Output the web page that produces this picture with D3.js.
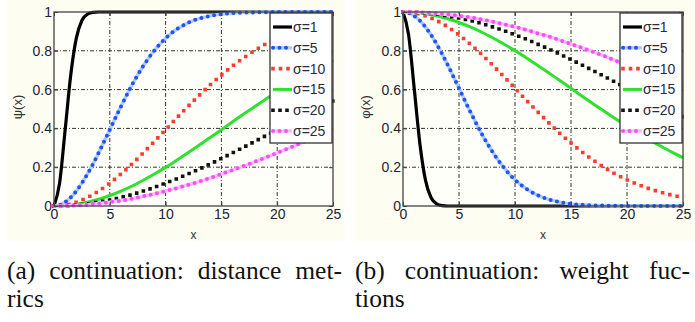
<!DOCTYPE html>
<html>
<head>
<meta charset="utf-8">
<script src="https://cdn.jsdelivr.net/npm/d3@7"></script>
<style>
body { margin: 0; background: #fff; }
svg { display: block; }
</style>
</head>
<body>
<div id="fig"></div>
<script>
/* data */
var xValues = [0, 0.5, 1, 1.5, 2, 2.5, 3, 3.5, 4, 5, 6, 7, 8, 9, 10, 11, 12, 13, 14, 15, 16, 17, 18, 19, 20, 21, 22, 23, 24, 25]
var sigmaLabels = ["σ=1", "σ=5", "σ=10", "σ=15", "σ=20", "σ=25"]
var xTicks = [0, 5, 10, 15, 20, 25]
var yTicks = [0, 0.2, 0.4, 0.6, 0.8, 1]

/* (a) distance metrics psi(x) */
var psi1  = [0, 0.118, 0.393, 0.675, 0.865, 0.956, 0.989, 0.998, 1, 1, 1, 1, 1, 1, 1, 1, 1, 1, 1, 1, 1, 1, 1, 1, 1, 1, 1, 1, 1, 1]
var psi5  = [0, 0.005, 0.020, 0.044, 0.077, 0.118, 0.165, 0.217, 0.274, 0.393, 0.513, 0.625, 0.722, 0.802, 0.865, 0.911, 0.944, 0.966, 0.980, 0.989, 0.994, 0.997, 0.998, 0.999, 1, 1, 1, 1, 1, 1]
var psi10 = [0, 0.001, 0.005, 0.011, 0.020, 0.031, 0.044, 0.059, 0.077, 0.118, 0.165, 0.217, 0.274, 0.333, 0.393, 0.454, 0.513, 0.570, 0.625, 0.675, 0.722, 0.764, 0.802, 0.836, 0.865, 0.890, 0.911, 0.929, 0.944, 0.956]
var psi15 = [0, 0.001, 0.002, 0.005, 0.009, 0.014, 0.020, 0.027, 0.035, 0.054, 0.077, 0.103, 0.133, 0.165, 0.199, 0.236, 0.274, 0.313, 0.353, 0.393, 0.434, 0.474, 0.513, 0.552, 0.589, 0.625, 0.659, 0.691, 0.722, 0.751]
var psi20 = [0, 0, 0.001, 0.003, 0.005, 0.008, 0.011, 0.015, 0.020, 0.031, 0.044, 0.059, 0.077, 0.096, 0.118, 0.140, 0.165, 0.190, 0.217, 0.245, 0.274, 0.303, 0.333, 0.363, 0.393, 0.424, 0.454, 0.484, 0.513, 0.542]
var psi25 = [0, 0, 0.001, 0.002, 0.003, 0.005, 0.007, 0.010, 0.013, 0.020, 0.028, 0.038, 0.050, 0.063, 0.077, 0.092, 0.109, 0.126, 0.145, 0.165, 0.185, 0.206, 0.228, 0.251, 0.274, 0.297, 0.321, 0.345, 0.369, 0.393]

/* (b) weight functions phi(x) */
var phi1  = [1, 0.882, 0.607, 0.325, 0.135, 0.044, 0.011, 0.002, 0, 0, 0, 0, 0, 0, 0, 0, 0, 0, 0, 0, 0, 0, 0, 0, 0, 0, 0, 0, 0, 0]
var phi5  = [1, 0.995, 0.980, 0.956, 0.923, 0.882, 0.835, 0.783, 0.726, 0.607, 0.487, 0.375, 0.278, 0.198, 0.135, 0.089, 0.056, 0.034, 0.020, 0.011, 0.006, 0.003, 0.002, 0.001, 0, 0, 0, 0, 0, 0]
var phi10 = [1, 0.999, 0.995, 0.989, 0.980, 0.969, 0.956, 0.941, 0.923, 0.882, 0.835, 0.783, 0.726, 0.667, 0.607, 0.546, 0.487, 0.430, 0.375, 0.325, 0.278, 0.236, 0.198, 0.164, 0.135, 0.110, 0.089, 0.071, 0.056, 0.044]
var phi15 = [1, 0.999, 0.998, 0.995, 0.991, 0.986, 0.980, 0.973, 0.965, 0.946, 0.923, 0.897, 0.867, 0.835, 0.801, 0.764, 0.726, 0.687, 0.647, 0.607, 0.566, 0.526, 0.487, 0.448, 0.411, 0.375, 0.341, 0.309, 0.278, 0.249]
var phi20 = [1, 1, 0.999, 0.997, 0.995, 0.992, 0.989, 0.985, 0.980, 0.969, 0.956, 0.941, 0.923, 0.904, 0.882, 0.860, 0.835, 0.810, 0.783, 0.755, 0.726, 0.697, 0.667, 0.637, 0.607, 0.576, 0.546, 0.516, 0.487, 0.458]
var phi25 = [1, 1, 0.999, 0.998, 0.997, 0.995, 0.993, 0.990, 0.987, 0.980, 0.972, 0.962, 0.950, 0.937, 0.923, 0.908, 0.891, 0.874, 0.855, 0.835, 0.815, 0.794, 0.772, 0.749, 0.726, 0.703, 0.679, 0.655, 0.631, 0.607]

var captionA = [["(a)", "continuation:", "distance", "met-"], ["rics"]]
var captionB = [["(b)", "continuation:", "weight", "fuc-"], ["tions"]]

/* line styles, one per sigma */
var styles = [
  {color: "#000", width: 3.2, dash: null, under: null},
  {color: "#1f55f0", width: 4, dash: "0,6.5", cap: "round", under: "#b3cbf5"},
  {color: "#ff3b30", width: 3.6, dash: "0,7.5", cap: "square", under: null},
  {color: "#2fe02f", width: 3, dash: null, under: null},
  {color: "#111", width: 3.6, dash: "0,7", cap: "square", under: null},
  {color: "#ff4cff", width: 4, dash: "0,6.5", cap: "round", under: "#f8c0f8"}
]

var panels = [
  {bgX: 7, bgW: 338, left: 54, right: 333, label: "ψ(x)", labelX: 18, series: [psi1, psi5, psi10, psi15, psi20, psi25], caption: captionA, capX0: 7, capX1: 342},
  {bgX: 355, bgW: 340, left: 403, right: 683, label: "φ(x)", labelX: 366, series: [phi1, phi5, phi10, phi15, phi20, phi25], caption: captionB, capX0: 355, capX1: 690}
]
var layout = {
  top: 12,
  bottom: 206,
  bgH: 241,
  legendW: 62,
  legendH: 130,
  legendRow: 20.8,
  capLine1: 279,
  capLine2: 307,
  capSize: 25.5
}
var sansFont = "Liberation Sans"
var serifFont = "Liberation Serif"

var svg = d3.select("#fig").append("svg")
    .attr("width", 695)
    .attr("height", 322)

var tickFmt = d3.format("~g")

panels.forEach(drawPanel)

function drawPanel(p, pi) {
  var x = d3.scaleLinear().domain([0, 25]).range([p.left, p.right])
  var y = d3.scaleLinear().domain([0, 1]).range([layout.bottom, layout.top])
  var g = svg.append("g")

  /* cream background */
  g.append("rect")
    .attr("x", p.bgX).attr("y", 0)
    .attr("width", p.bgW).attr("height", layout.bgH)
    .attr("fill", "#fefdf1")
  g.append("rect")
    .attr("x", p.left).attr("y", layout.top)
    .attr("width", p.right - p.left).attr("height", layout.bottom - layout.top)
    .attr("fill", "#fffffa")

  /* grid */
  xTicks.slice(1, -1).forEach(function(t) {
    g.append("line")
      .attr("x1", x(t)).attr("x2", x(t))
      .attr("y1", layout.top).attr("y2", layout.bottom)
      .style("stroke", "#333").style("stroke-width", 1)
      .style("stroke-dasharray", "4,2,1,2")
  })
  yTicks.slice(1, -1).forEach(function(t) {
    g.append("line")
      .attr("x1", p.left).attr("x2", p.right)
      .attr("y1", y(t)).attr("y2", y(t))
      .style("stroke", "#333").style("stroke-width", 1)
      .style("stroke-dasharray", "4,2,1,2")
  })

  /* curves */
  var clipId = "clip" + pi
  svg.append("clipPath").attr("id", clipId)
    .append("rect")
    .attr("x", p.left - 2).attr("y", layout.top - 2)
    .attr("width", p.right - p.left + 4).attr("height", layout.bottom - layout.top + 4)
  var lineFn = d3.line()
    .x(function(d, i) { return x(xValues[i]) })
    .y(function(d) { return y(d) })
    .curve(d3.curveMonotoneX)
  var curves = g.append("g").attr("clip-path", "url(#" + clipId + ")")
  p.series.forEach(function(vals, si) {
    var s = styles[si]
    if (s.under) {
      curves.append("path")
        .attr("d", lineFn(vals))
        .attr("fill", "none")
        .attr("stroke", s.under)
        .attr("stroke-width", 3.5)
    }
    curves.append("path")
      .attr("d", lineFn(vals))
      .attr("fill", "none")
      .attr("stroke", s.color)
      .attr("stroke-width", s.width)
      .attr("stroke-linecap", s.cap || "butt")
      .attr("stroke-dasharray", s.dash)
  })

  /* axes */
  g.append("g")
    .attr("transform", "translate(0," + layout.bottom + ")")
    .call(d3.axisBottom(x).tickValues(xTicks).tickSizeInner(-4).tickSizeOuter(0).tickPadding(3))
    .call(styleAxis)
  g.append("g")
    .attr("transform", "translate(" + p.left + ",0)")
    .call(d3.axisLeft(y).tickValues(yTicks).tickFormat(tickFmt).tickSizeInner(-4).tickSizeOuter(0).tickPadding(2))
    .call(styleAxis)
  g.append("g")
    .attr("transform", "translate(0," + layout.top + ")")
    .call(d3.axisTop(x).tickValues(xTicks).tickFormat("").tickSizeInner(-4).tickSizeOuter(0))
    .call(styleAxis)
  g.append("g")
    .attr("transform", "translate(" + p.right + ",0)")
    .call(d3.axisRight(y).tickValues(yTicks).tickFormat("").tickSizeInner(-4).tickSizeOuter(0))
    .call(styleAxis)

  /* plot box */
  g.append("rect")
    .attr("x", p.left).attr("y", layout.top)
    .attr("width", p.right - p.left).attr("height", layout.bottom - layout.top)
    .attr("fill", "none").attr("stroke", "#444").attr("stroke-width", 1.3)

  /* axis labels */
  g.append("text")
    .attr("x", (p.left + p.right) / 2).attr("y", 239)
    .attr("text-anchor", "middle")
    .attr("font-family", sansFont).attr("font-size", 12)
    .attr("fill", "#333")
    .text("x")
  g.append("text")
    .attr("transform", "translate(" + (p.labelX + 4) + "," + ((layout.top + layout.bottom) / 2 - 2) + ") rotate(-90)")
    .attr("text-anchor", "middle")
    .attr("font-family", sansFont).attr("font-size", 13)
    .attr("fill", "#333")
    .text(p.label)

  /* legend */
  var lx = p.right - 1 - layout.legendW
  var ly = layout.top + 1
  var leg = g.append("g")
  leg.append("rect")
    .attr("x", lx).attr("y", ly)
    .attr("width", layout.legendW).attr("height", layout.legendH)
    .attr("fill", "#fff").attr("stroke", "#333").attr("stroke-width", 1.3)
  sigmaLabels.forEach(function(lbl, si) {
    var s = styles[si]
    var ry = ly + 14 + si * layout.legendRow
    if (s.under) {
      leg.append("line")
        .attr("x1", lx + 3).attr("x2", lx + 22)
        .attr("y1", ry).attr("y2", ry)
        .attr("stroke", s.under).attr("stroke-width", 3.5)
    }
    leg.append("line")
      .attr("x1", lx + 3).attr("x2", lx + 22)
      .attr("y1", ry).attr("y2", ry)
      .attr("stroke", s.color)
      .attr("stroke-width", s.width)
      .attr("stroke-linecap", s.cap || "butt")
      .attr("stroke-dasharray", s.dash)
    leg.append("text")
      .attr("x", lx + 23).attr("y", ry + 5)
      .attr("font-family", sansFont).attr("font-size", 14)
      .attr("fill", "#2a2a3a")
      .text(lbl)
  })

  /* caption, first line justified */
  var cap = svg.append("g")
    .attr("transform", "translate(" + p.capX0 + ",0)")
  justify(cap, p.caption[0], p.capX1 - p.capX0, layout.capLine1)
  cap.append("text")
    .attr("x", 0).attr("y", layout.capLine2)
    .attr("font-family", serifFont).attr("font-size", layout.capSize)
    .attr("fill", "#111")
    .text(p.caption[1][0])
}

function styleAxis(sel) {
  sel.select(".domain").remove()
  sel.selectAll(".tick line").attr("stroke", "#444")
  sel.selectAll(".tick text")
    .attr("font-family", sansFont)
    .attr("font-size", 14)
    .attr("fill", "#222233")
  sel.attr("font-family", sansFont).attr("font-size", 14)
}

function justify(parent, words, width, yPos) {
  var nodes = words.map(function(w) {
    return parent.append("text")
      .attr("y", yPos)
      .attr("font-family", serifFont).attr("font-size", layout.capSize)
      .attr("fill", "#111")
      .text(w)
  })
  var widths = nodes.map(function(n) { return n.node().getComputedTextLength() })
  var gap = (width - d3.sum(widths)) / (words.length - 1)
  var cx = 0
  nodes.forEach(function(n, i) {
    n.attr("x", cx)
    cx += widths[i] + gap
  })
}
</script>
</body>
</html>
